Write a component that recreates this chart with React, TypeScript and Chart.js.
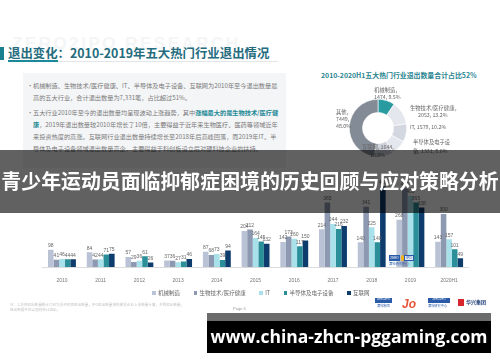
import React, { useEffect, useRef } from "react";
import { Chart, registerables } from "chart.js";
Chart.register(...registerables);

const years = ["2010", "2011", "2012", "2013", "2014", "2015", "2016", "2017", "2018", "2019", "2020H1"];
const seriesNames = ["机械制造", "生物技术/医疗健康", "IT", "半导体及电子设备", "互联网"];
const machinery = [98, 84, 57, 37, 87, 204, 142, 214, 140, 268, 143];
const biotech = [41, 42, 29, 36, 68, 212, 173, 365, 341, 446, 300];
const itValues = [46, 44, 36, 27, 73, 164, 160, 244, 225, 403, 157];
const semi = [44, 71, 61, 31, 39, 145, 117, 216, 140, 365, 101];
const internet = [44, 75, 26, 46, 94, 132, 150, 232, 458, 338, 49];
const seriesColors = ["#b9c3d5", "#8d99b1", "#a8e1ea", "#2a8f98", "#0e3c6d"];

const donutLabels = ["机械制造", "生物技术/医疗健康", "IT", "半导体及电子设备", "互联网", "其他"];
const donutValues = [1474, 2053, 1579, 1331, 1644, 7449];
const donutColors = ["#2a9aa1", "#e4e7ed", "#d3d8e0", "#e4e7ed", "#ccd1da", "#838b97"];

const FONT = "'Noto Sans CJK SC', 'Liberation Sans', sans-serif";
const NUMFONT = "'Liberation Sans', 'Noto Sans CJK SC', sans-serif";

const valueLabels = {
  id: "valueLabels",
  afterDatasetsDraw(chart: any) {
    const ctx = chart.ctx;
    ctx.save();
    ctx.font = "5px " + NUMFONT;
    ctx.fillStyle = "#666";
    ctx.textAlign = "center";
    ctx.textBaseline = "bottom";
    chart.data.datasets.forEach((ds: any, i: number) => {
      const meta = chart.getDatasetMeta(i);
      meta.data.forEach((el: any, j: number) => {
        ctx.fillText(String(ds.data[j]), el.x, el.y - 1.5);
      });
    });
    ctx.restore();
  },
};

function BarChart() {
  const ref = useRef<HTMLCanvasElement | null>(null);
  useEffect(() => {
    const data = [machinery, biotech, itValues, semi, internet];
    const chart = new Chart(ref.current as HTMLCanvasElement, {
      type: "bar",
      data: {
        labels: years,
        datasets: seriesNames.map((n, i) => ({
          label: n,
          data: data[i],
          backgroundColor: seriesColors[i],
          borderWidth: 0,
          barPercentage: 1,
          categoryPercentage: 0.72,
        })),
      },
      options: {
        animation: false,
        responsive: false,
        maintainAspectRatio: false,
        layout: { padding: { left: 42.6, right: 31.5, top: 0, bottom: 0 } },
        scales: {
          x: {
            grid: { display: false },
            border: { color: "#dcdcdc" },
            ticks: { color: "#777", font: { size: 5, family: NUMFONT }, padding: 3 },
          },
          y: { display: false, min: 0, max: 720 },
        },
        plugins: {
          legend: { display: false },
          tooltip: { enabled: false },
        },
      },
      plugins: [valueLabels],
    } as any);
    return () => chart.destroy();
  }, []);
  return (
    <canvas
      ref={ref}
      width={500}
      height={147}
      style={{ position: "absolute", left: 0, top: 140, width: 500, height: 147 }}
    />
  );
}

function DonutChart() {
  const ref = useRef<HTMLCanvasElement | null>(null);
  useEffect(() => {
    const chart = new Chart(ref.current as HTMLCanvasElement, {
      type: "doughnut",
      data: {
        labels: donutLabels,
        datasets: [
          {
            data: donutValues,
            backgroundColor: donutColors,
            borderColor: "#ffffff",
            borderWidth: 0.6,
          },
        ],
      },
      options: {
        animation: false,
        responsive: false,
        maintainAspectRatio: false,
        cutout: "54%",
        layout: { padding: 0 },
        plugins: { legend: { display: false }, tooltip: { enabled: false } },
      },
    } as any);
    return () => chart.destroy();
  }, []);
  return (
    <canvas
      ref={ref}
      width={58}
      height={58}
      style={{ position: "absolute", left: 349, top: 99, width: 58, height: 58 }}
    />
  );
}

const abs = (l: number, t: number, extra: any = {}) => ({ position: "absolute" as const, left: l, top: t, ...extra });

const para1 = ["机械制造、生物技术/医疗健康、IT、半导体及电子设备、互联网为2010年至今退出数量最", "高的五大行业，合计退出数量为7,331笔，占比超过51%。"];

export default function App() {
  const small = { fontFamily: FONT, color: "#666", fontSize: 5.3, lineHeight: "7px", whiteSpace: "nowrap" as const };
  const bodyText = { fontFamily: FONT, color: "#7a7a7a", fontSize: 6.2, lineHeight: "12px", whiteSpace: "nowrap" as const };
  const hl = { color: "#1f8a96", fontWeight: 700 };
  return (
    <div style={{ position: "fixed", left: 0, top: 0, width: 500, height: 362, background: "#fff", overflow: "hidden" }}>
      {/* watermark */}
      <div style={abs(12, 34, { fontFamily: NUMFONT, fontWeight: 700, fontSize: 17, color: "#f4f5f6", letterSpacing: 2.5, whiteSpace: "nowrap" })}>ZERO2IPO RESEARCH</div>
      {/* title */}
      <div style={abs(0, 47, { width: 4, height: 13, background: "#1a7f8f" })} />
      <div style={abs(8, 44, { fontFamily: FONT, fontWeight: 700, fontSize: 12.4, color: "#256c7e", whiteSpace: "nowrap", lineHeight: "18px" })}>退出变化：2010-2019年五大热门行业退出情况</div>
      <div style={abs(8, 60, { width: 50, height: 1.5, background: "#1a8a9a" })} />
      <div style={abs(58, 60.5, { width: 220, height: 0.6, background: "#e3e6e8" })} />
      {/* text box */}
      <div style={abs(23, 73, { width: 263, height: 95, background: "#f4f5f7" })} />
      <div style={abs(27, 80, bodyText)}>•</div>
      <div style={abs(33, 80, bodyText)}>{para1[0]}<br />{para1[1]}</div>
      <div style={abs(27, 107, bodyText)}>•</div>
      <div style={abs(33, 107, bodyText)}>
        五大行业2010年至今的退出数量均呈现波动上涨趋势，其中<span style={hl}>涨幅最大的是生物技术/医疗健</span>
        <br />
        <span style={hl}>康</span>，2019年退出数量较2010年增长了10倍，主要得益于近年来生物医疗、医药等领域近年
        <br />
        来投资热度的高涨。互联网行业退出数量持续增长至2018年后高峰回落，而2019年IT、半
        <br />
        导体及电子设备领域退出数量高企，主要得益于科创板设立后对硬科技企业的扶持。
      </div>
      {/* donut */}
      <div style={abs(321, 70, { fontFamily: FONT, fontWeight: 700, fontSize: 6.9, color: "#2a8591", whiteSpace: "nowrap", lineHeight: "10px" })}>2010-2020H1五大热门行业退出数量合计占比52%</div>
      <DonutChart />
      <div style={abs(374, 87, small)}>机械制造，<br />1474, 9.5%</div>
      <div style={abs(410, 104.5, small)}>生物技术/医疗健康，</div>
      <div style={abs(418, 111.5, small)}>2053, 13.2%</div>
      <div style={abs(410, 123.5, small)}>IT, 1579, 10.2%</div>
      <div style={abs(413, 138.5, small)}>半导体及电子设</div>
      <div style={abs(413, 148, small)}>备, 1331, 8.6%</div>
      <div style={abs(362, 143.5, small)}>互联网, 1644,</div>
      <div style={abs(370, 151.5, small)}>10.6%</div>
      <div style={abs(336, 108.5, small)}>其他，<br />7449,<br />48.0%</div>
      {/* bar chart */}
      <BarChart />
      {/* legend */}
      <div style={abs(152, 289.5, { display: "flex", gap: 13.5, alignItems: "center", whiteSpace: "nowrap" })}>
        {seriesNames.map((n, i) => (
          <div key={n} style={{ display: "flex", alignItems: "center" }}>
            <div style={{ width: 3.5, height: 3.5, background: seriesColors[i], marginRight: 2.5 }} />
            <span style={{ fontFamily: FONT, fontSize: 5.5, color: "#666", lineHeight: "7px" }}>{n}</span>
          </div>
        ))}
      </div>
      {/* small logo in chart */}
      <div style={abs(389, 255, { width: 11, height: 6, background: "#2a5ba8", color: "#fff", fontSize: 3, lineHeight: "6px", fontFamily: NUMFONT, textAlign: "center" })}>ZERO</div>
      <div style={abs(400.5, 255, { width: 3.5, height: 6, background: "#f2b31c", borderRadius: 3 })} />
      <div style={abs(404, 255, { width: 10, height: 6, background: "#dfe6f3", border: "0.5px solid #2a5ba8", boxSizing: "border-box", color: "#2a5ba8", fontSize: 3, lineHeight: "5px", fontFamily: NUMFONT, textAlign: "center" })}>IPO</div>
      <div style={abs(389, 261.5, { fontFamily: FONT, fontSize: 3.3, color: "#2a5ba8", whiteSpace: "nowrap", lineHeight: "4px" })}>清科研究中心</div>
      {/* footnote */}
      <div style={abs(10, 303, { fontFamily: FONT, fontSize: 3.6, color: "#c4c4c4", whiteSpace: "nowrap", lineHeight: "4.5px" })}>
        注：1.投资退出数量统计口径为投资机构退出数量，IPO退出数量按照被投企业上市数量计算，并购退出数量，
        <br />
        退出数据不包含股权转让退出。
      </div>
      <div style={abs(233, 305.5, { fontFamily: NUMFONT, fontSize: 4, color: "#999", whiteSpace: "nowrap" })}>Page 6</div>
      {/* bottom-right logos */}
      <div style={abs(375, 298, { width: 17, height: 4.5, background: "#2a5ba8", color: "#fff", fontSize: 2.6, lineHeight: "4.5px", fontFamily: NUMFONT, textAlign: "center" })}>ZERO2IPO</div>
      <div style={abs(377, 304, { fontFamily: FONT, fontSize: 3.2, color: "#2a5ba8", whiteSpace: "nowrap", lineHeight: "4px" })}>清科集团</div>
      <div style={abs(402, 297, { fontFamily: NUMFONT, fontStyle: "italic", fontWeight: 700, fontSize: 12, color: "#e8553b", lineHeight: "14px" })}>Jo</div>
      <div style={abs(428, 298, { width: 22, height: 4.5, background: "#2a5ba8", color: "#fff", fontSize: 2.6, lineHeight: "4.5px", fontFamily: NUMFONT, textAlign: "center" })}>ZERO2IPO</div>
      <div style={abs(428, 304, { fontFamily: FONT, fontSize: 3.2, color: "#2a5ba8", whiteSpace: "nowrap", lineHeight: "4px" })}>清科研究中心</div>
      <div style={abs(458, 299, { width: 6, height: 7, background: "#d8262e" })} />
      <div style={abs(466, 298, { fontFamily: FONT, fontWeight: 700, fontSize: 5, color: "#1f3f7a", whiteSpace: "nowrap", lineHeight: "7px" })}>华兴集团</div>
      {/* headline banner */}
      <div style={abs(0, 150, { width: 500, height: 63, background: "rgba(0,0,0,0.62)" })} />
      <div style={abs(0, 167, { width: 500, textAlign: "center", fontFamily: FONT, fontWeight: 700, fontSize: 19.9, color: "#fff", lineHeight: "28px", whiteSpace: "nowrap" })}>青少年运动员面临抑郁症困境的历史回顾与应对策略分析</div>
      {/* URL banner */}
      <div style={abs(207, 313, { width: 284, height: 40, background: "#000", borderTop: "8px solid #6b6b6b", boxSizing: "border-box" })} />
      <div style={abs(207, 321, { width: 284, textAlign: "center", fontFamily: "'Open Sans', 'Noto Sans', sans-serif", fontWeight: 700, fontSize: 17.5, color: "#fff", lineHeight: "30px", whiteSpace: "nowrap" })}>www.china-zhcn-pggaming.com</div>
    </div>
  );
}
